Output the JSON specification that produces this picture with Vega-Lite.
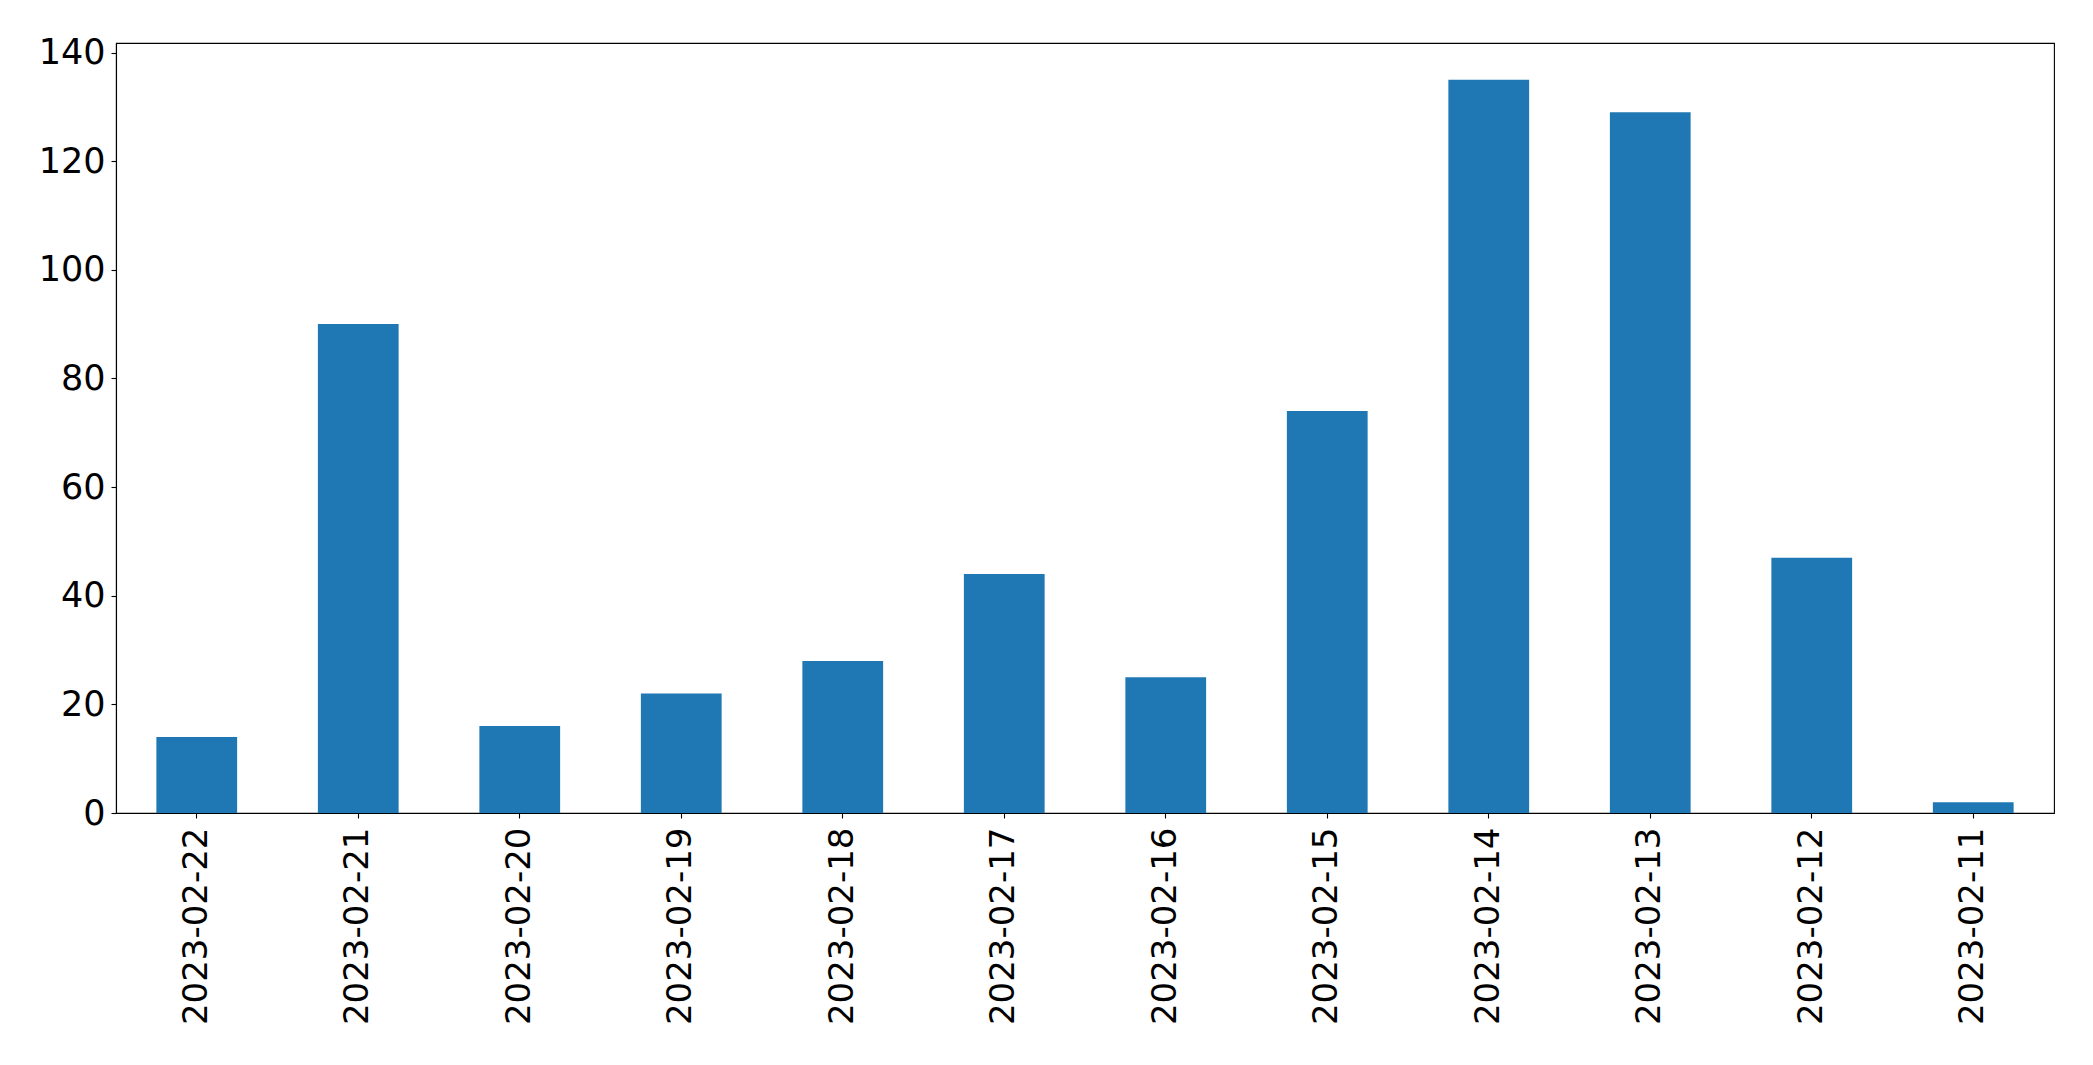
{
  "$schema": "https://vega.github.io/schema/vega-lite/v6.json",
  "autosize": {"type": "none"},
  "padding": {"left": 116, "top": 43, "right": 39, "bottom": 252},
  "width": 1938,
  "height": 770,
  "background": "white",
  "config": {
    "font": "DejaVu Sans",
    "view": {"stroke": "black", "strokeWidth": 1.1},
    "axis": {
      "grid": false,
      "domainColor": "black",
      "domainWidth": 1.1,
      "tickColor": "black",
      "tickWidth": 1.1,
      "tickSize": 5,
      "labelColor": "black",
      "labelFont": "DejaVu Sans",
      "labelFontSize": 35,
      "labelLimit": 0,
      "labelOverlap": false,
      "title": null
    }
  },
  "data": {
    "values": [
      {"date": "2023-02-22", "count": 14},
      {"date": "2023-02-21", "count": 90},
      {"date": "2023-02-20", "count": 16},
      {"date": "2023-02-19", "count": 22},
      {"date": "2023-02-18", "count": 28},
      {"date": "2023-02-17", "count": 44},
      {"date": "2023-02-16", "count": 25},
      {"date": "2023-02-15", "count": 74},
      {"date": "2023-02-14", "count": 135},
      {"date": "2023-02-13", "count": 129},
      {"date": "2023-02-12", "count": 47},
      {"date": "2023-02-11", "count": 2}
    ]
  },
  "mark": {"type": "bar", "color": "#1f77b4"},
  "encoding": {
    "x": {
      "field": "date",
      "type": "nominal",
      "sort": null,
      "scale": {"paddingInner": 0.5, "paddingOuter": 0.25},
      "axis": {"labelAngle": 270, "labelPadding": 9, "labelFontSize": 34}
    },
    "y": {
      "field": "count",
      "type": "quantitative",
      "scale": {"domain": [0, 141.75], "nice": false, "zero": true},
      "axis": {"values": [0, 20, 40, 60, 80, 100, 120, 140], "labelPadding": 6}
    }
  }
}
